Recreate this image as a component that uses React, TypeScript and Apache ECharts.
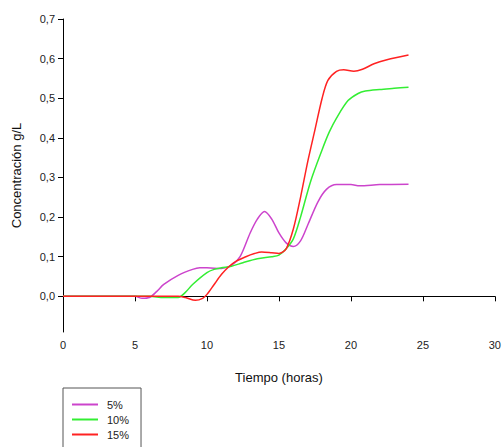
import React, { useEffect, useRef } from "react";
import * as echarts from "echarts";

const seriesNames = ["5%", "10%", "15%"];
const seriesColors = ["#cc44cc", "#33ee33", "#ff2222"];

const s5: [number, number][] = [
  [0, 0], [5, 0], [5.5, -0.005], [6, -0.003], [6.5, 0.012], [7, 0.03], [8, 0.053], [9, 0.068],
  [9.5, 0.072], [10, 0.072], [11, 0.07], [11.7, 0.078], [12.3, 0.1], [13, 0.16], [13.5, 0.195],
  [14, 0.214], [14.5, 0.195], [15, 0.16], [15.5, 0.135], [16, 0.126], [16.5, 0.14], [17, 0.18],
  [17.7, 0.238], [18.3, 0.27], [19, 0.282], [20, 0.282], [20.6, 0.279], [22, 0.282], [24, 0.283],
];
const s10: [number, number][] = [
  [0, 0], [6, 0], [7, -0.003], [8, -0.003], [8.5, 0.01], [9, 0.03], [10, 0.06], [10.5, 0.068],
  [11, 0.072], [11.7, 0.076], [12.5, 0.085], [13.5, 0.095], [14.5, 0.1], [15, 0.104], [15.5, 0.12],
  [16, 0.145], [16.5, 0.2], [17.2, 0.29], [18, 0.37], [18.5, 0.415], [19, 0.45], [19.8, 0.494],
  [20.5, 0.512], [21, 0.518], [22, 0.522], [23, 0.525], [24, 0.528],
];
const s15: [number, number][] = [
  [0, 0], [8, 0], [8.5, -0.003], [9.2, -0.01], [9.7, -0.005], [10, 0.005], [10.5, 0.03], [11, 0.055],
  [11.5, 0.074], [12, 0.088], [12.7, 0.1], [13.3, 0.108], [13.8, 0.112], [14.5, 0.11], [15, 0.108],
  [15.5, 0.12], [16, 0.17], [16.5, 0.25], [17, 0.34], [17.5, 0.42], [18, 0.5], [18.4, 0.545],
  [19, 0.568], [19.5, 0.572], [20.2, 0.568], [20.8, 0.573], [21.6, 0.587], [22.5, 0.597], [24, 0.609],
];
const allSeries = [s5, s10, s15];
const yTicks = [0, 0.1, 0.2, 0.3, 0.4, 0.5, 0.6, 0.7];

const FONT = "'Liberation Sans', Arial, sans-serif";

export default function App() {
  const ref = useRef<HTMLDivElement>(null);
  useEffect(() => {
    if (!ref.current) return;
    const chart = echarts.init(ref.current, null, { renderer: "svg" });
    chart.setOption({
      animation: false,
      textStyle: { fontFamily: FONT },
      grid: { left: 63, top: 19, right: 6, bottom: 115 },
      legend: {
        orient: "vertical",
        left: 63,
        top: 388,
        height: 120,
        itemWidth: 26,
        itemHeight: 2,
        itemGap: 2,
        icon: "rect",
        padding: [10, 12, 30, 9],
        borderColor: "#555",
        borderWidth: 1,
        textStyle: { fontFamily: FONT, fontSize: 11, lineHeight: 13, color: "#222", padding: [0, 0, 0, 4] },
        data: seriesNames,
      },
      xAxis: {
        type: "value",
        min: 0,
        max: 30,
        interval: 5,
        name: "Tiempo (horas)",
        nameLocation: "middle",
        nameGap: 39,
        nameTextStyle: { fontFamily: FONT, fontSize: 13, color: "#111" },
        axisLine: { lineStyle: { color: "#000", width: 1 } },
        axisTick: { length: 5, lineStyle: { color: "#000" } },
        axisLabel: { fontFamily: FONT, fontSize: 11, color: "#222", margin: 7 },
        splitLine: { show: false },
      },
      yAxis: {
        type: "value",
        min: -0.09,
        max: 0.7,
        name: "Concentración g/L",
        nameLocation: "middle",
        nameGap: 40,
        nameTextStyle: { fontFamily: FONT, fontSize: 13, color: "#111" },
        axisLine: { show: true, lineStyle: { color: "#000", width: 1 } },
        axisTick: { show: true, length: 5, lineStyle: { color: "#000" }, customValues: yTicks },
        axisLabel: {
          fontFamily: FONT,
          fontSize: 11,
          color: "#222",
          margin: 8,
          customValues: yTicks,
          formatter: (v: number) => v.toFixed(1).replace(".", ","),
        },
        splitLine: { show: false },
      },
      series: allSeries.map((d, i) => ({
        name: seriesNames[i],
        type: "line",
        data: d,
        smooth: 0.3,
        showSymbol: false,
        symbol: "none",
        lineStyle: { color: seriesColors[i], width: 1.5 },
        itemStyle: { color: seriesColors[i] },
      })),
    });
    return () => chart.dispose();
  }, []);
  return (
    <div
      ref={ref}
      style={{ position: "fixed", left: 0, top: 0, width: 504, height: 447, background: "#fff" }}
    />
  );
}
